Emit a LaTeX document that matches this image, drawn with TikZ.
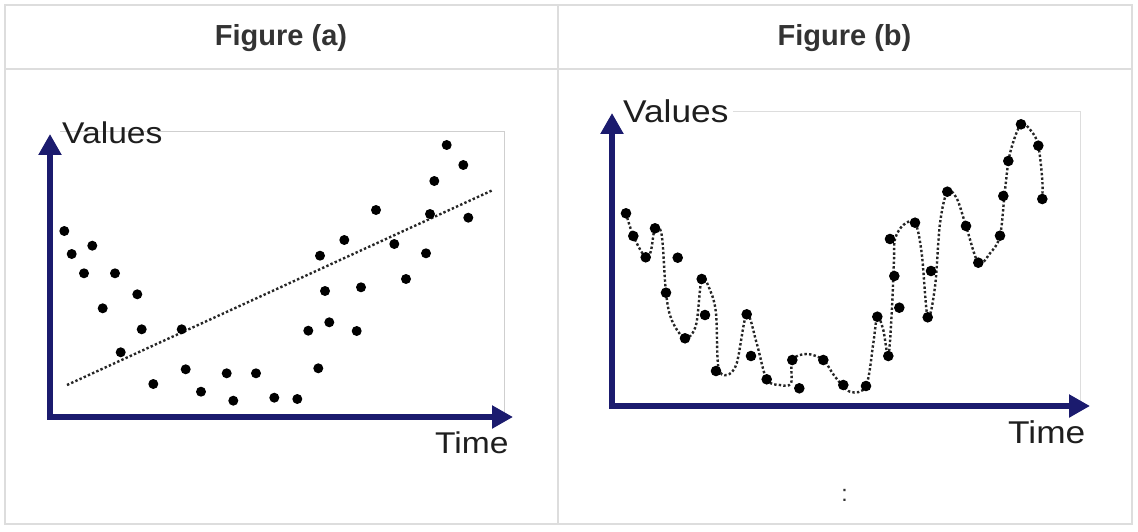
\documentclass[tikz,border=0pt]{standalone}
\usepackage{fontspec}
\setmainfont{Liberation Sans}
\usetikzlibrary{arrows.meta}
\definecolor{gridgray}{HTML}{DDDDDD}
\definecolor{boxgray}{HTML}{CFCFCF}
\definecolor{axisblue}{HTML}{1B1B6E}
\definecolor{headtext}{HTML}{333333}
\definecolor{labtext}{HTML}{1E1E1E}
\tikzset{
  tableline/.style={draw=gridgray, line width=2pt},
  plotframe/.style={draw=boxgray, line width=1pt},
  axisline/.style={draw=axisblue, line width=5.5pt, line join=miter,
    {Triangle[length=21pt,width=22pt]}-{Triangle[length=21pt,width=22pt]}},
  header/.style={font=\fontsize{29}{32}\bfseries\selectfont, text=headtext, inner sep=0pt},
  axlabel/.style={text=labtext, inner sep=0pt, anchor=base west},
  trend/.style={draw=black!85, line width=2.4pt, dash pattern=on 2.4pt off 2.2pt},
  datadot/.style={fill=black}
}
\begin{document}
\begin{tikzpicture}[x=1pt,y=-1pt]
\useasboundingbox (0,0) rectangle (1138,532);
\fill[white] (0,0) rectangle (1138,532);
% table
\draw[tableline] (5,5) rectangle (1132,524);
\draw[tableline] (5,69) -- (1132,69);
\draw[tableline] (557.5,5) -- (557.5,524);
\node[header] (ha) at (281,38) {Figure (a)};
\node[header] (hb) at (844.5,38) {Figure (b)};
\node[font=\fontsize{23}{24}\selectfont, text=headtext, inner sep=0pt, anchor=base] (colon) at (844.5,501) {:};

% ---------- Figure (a) ----------
\draw[plotframe] (60,132) -- (504,132) -- (504,417);
\coordinate (aO) at (50,417);
\coordinate (aY) at (50,134);
\coordinate (aX) at (513,417);
\draw[axisline] (aY) -- (aO) -- (aX);
\node[axlabel, font=\fontsize{30}{30}\selectfont] (aval) at (62,143) {\scalebox{1.12}[1]{Values}};
\node[axlabel, font=\fontsize{30}{30}\selectfont] (atime) at (435,453) {\scalebox{1.12}[1]{Time}};
\coordinate (tr1) at (67,385);
\coordinate (tr2) at (493,190);
\draw[trend] (tr1) -- (tr2);
\foreach \px/\py in {64.3/231, 71.7/254, 92.3/245.7, 84/273.3, 115/273.3, 102.7/308.3,
  137.3/294.3, 141.7/329.3, 120.7/352.3, 181.7/329.3, 153.3/384, 185.7/369.3,
  201/391.7, 226.7/373.3, 233.3/400.7, 256/373.3, 274.3/397.7, 297.3/399,
  318.3/368.3, 308.3/330.7, 329.3/322.3, 325/291, 320/255.7, 344.3/240,
  361/287.3, 356.7/331, 376/210, 394.3/244, 406/279, 426/253.3, 430/214,
  434.3/181, 446.7/145, 463.3/165, 468.3/217.7}
  \fill[datadot] (\px,\py) circle[radius=5pt];

% ---------- Figure (b) ----------
\draw[plotframe, draw=gridgray] (733,112) -- (1080,112) -- (1080,406);
\coordinate (bO) at (612,406);
\coordinate (bY) at (612,113);
\coordinate (bX) at (1090,406);
\draw[axisline] (bY) -- (bO) -- (bX);
\node[axlabel, font=\fontsize{31.5}{32}\selectfont] (bval) at (623,123) {\scalebox{1.12}[1]{Values}};
\node[axlabel, font=\fontsize{31.5}{32}\selectfont] (btime) at (1008,443) {\scalebox{1.12}[1]{Time}};
\draw[trend] plot[smooth, tension=0.55] coordinates {
  (626,213.3) (633.3,236) (645,256.7) (650.7,251.7) (655,228.3) (661.7,235)
  (666,292.7) (671.7,320) (685,338.3) (696,325) (701.7,279) (710,290)
  (716,313.3) (718.3,366.7) (726.7,375) (736.7,363.3) (746.7,314.3) (756.7,343.3)
  (766.7,379.3) (780,385) (791,383.3) (792.3,360) (806.7,354) (823.3,360)
  (835,376.7) (850,391.7) (866,386) (873.3,343.3) (877.3,316.7) (883.3,330)
  (888.3,356) (891.7,313.3) (894,260) (895,239) (903.3,225) (915,222.7)
  (921.7,253.3) (927.7,317.3) (935,286.7) (940,223.3) (947.3,191.7) (956.7,198.3)
  (966,226) (978.3,262.7) (990,253.3) (1000,235.7) (1005,190) (1010,153.3)
  (1021,124.3) (1031.7,131.7) (1038.3,145.7) (1042.3,180) (1042.3,199)};
\foreach \px/\py in {626/213.3, 633.3/236, 645.7/257.3, 655/228.3, 677.7/257.7,
  666/292.7, 685/338.3, 701.7/279, 705/315, 716/371, 746.7/314.3, 751/356,
  766.7/379.3, 792.3/360, 799.3/388.3, 823.3/360, 843.3/385, 866/386,
  877.3/316.7, 888.3/356, 899.3/307.7, 894.3/276, 890/239, 915/222.7,
  931/271, 927.7/317.3, 947.3/191.7, 966/226, 978.3/262.7, 1000/235.7,
  1003.3/196, 1008.3/161, 1021/124.3, 1038.3/145.7, 1042.3/199}
  \fill[datadot] (\px,\py) circle[radius=5.3pt];
\end{tikzpicture}
\end{document}
